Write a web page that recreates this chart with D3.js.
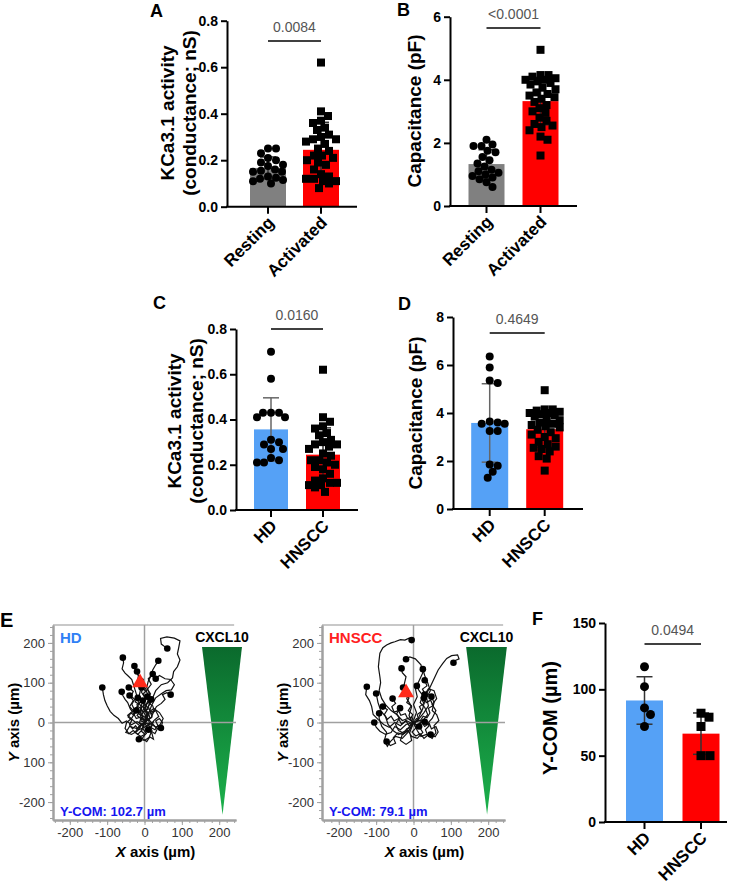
<!DOCTYPE html>
<html lang="en">
<head>
  <meta charset="UTF-8">
  <title>KCa3.1 activity and chemotaxis</title>
  <script src="https://d3js.org/d3.v7.min.js"></script>
  <style>
    body { margin: 0; background: #fff; }
    svg text { font-family: "Liberation Sans", Arial, sans-serif; }
  </style>
</head>
<body>
  <svg id="fig" width="740" height="895"></svg>

  <script>
    // ---- values ----
    const cellGroups = ["Resting", "Activated"];
    const donorGroups = ["HD", "HNSCC"];

    const kcaResting = [0.25, 0.25, 0.23, 0.21, 0.20, 0.19, 0.18, 0.175, 0.16, 0.155, 0.15, 0.15, 0.13, 0.125, 0.12, 0.115, 0.11, 0.10];
    const kcaActivated = [0.62, 0.41, 0.39, 0.37, 0.36, 0.34, 0.33, 0.31, 0.30, 0.29, 0.29, 0.28, 0.27, 0.25, 0.24, 0.22, 0.22, 0.21, 0.20, 0.19, 0.18, 0.16, 0.14, 0.13, 0.12, 0.12, 0.11, 0.11, 0.10, 0.08];
    const capResting = [2.1, 1.95, 1.9, 1.9, 1.75, 1.7, 1.55, 1.45, 1.35, 1.25, 1.15, 1.1, 1.05, 1.0, 0.95, 0.9, 0.85, 0.75, 0.6];
    const capActivated = [4.95, 4.15, 4.15, 4.1, 4.05, 4.0, 4.0, 3.95, 3.9, 3.85, 3.75, 3.7, 3.6, 3.55, 3.5, 3.45, 3.4, 3.3, 3.2, 3.1, 3.0, 2.95, 2.8, 2.7, 2.6, 2.55, 2.5, 2.4, 2.2, 2.1, 1.6];
    const kcaHD = [0.70, 0.58, 0.43, 0.43, 0.43, 0.41, 0.41, 0.31, 0.30, 0.29, 0.27, 0.27, 0.23, 0.22, 0.21, 0.21];
    const kcaHNSCC = kcaActivated;
    const capHD = [6.35, 5.9, 5.35, 5.25, 3.65, 3.6, 3.55, 3.55, 3.25, 3.25, 1.85, 1.8, 1.55, 1.3];
    const capHNSCC = capActivated;
    const ycomHD = [117, 102, 86, 81, 72];
    const ycomHNSCC = [82, 79, 72, 50, 50];

    const kcaTicks = [0, 0.2, 0.4, 0.6, 0.8];
    const capTicksB = [0, 2, 4, 6];
    const capTicksD = [0, 2, 4, 6, 8];
    const ycomTicks = [0, 50, 100, 150];
    const pValues = ["0.0084", "<0.0001", "0.0160", "0.4649", "0.0494"];

    // chemotaxis tracks (µm), each starting near the origin; last point = end dot
    const hdTracks = [
      [[0,0],[8,15],[5,32],[14,48],[22,62],[30,80],[45,95],[62,100],[75,112],[78,128],[88,140],[95,157],[88,172],[92,190],[95,205],[80,212],[60,215],[43,211],[45,197],[55,190],[61,186]],
      [[-5,5],[-12,20],[-8,38],[-18,55],[-22,72],[-28,90],[-34,108],[-45,118],[-52,124],[-60,135],[-56,150],[-58,163]],
      [[2,-5],[-4,12],[-12,30],[-6,50],[-14,68],[-10,85],[-20,100],[-16,118],[-24,130],[-27,142]],
      [[4,2],[10,18],[2,35],[8,52],[14,70],[6,88],[10,104],[18,118],[22,132],[30,145],[37,155]],
      [[-6,-4],[-20,2],[-35,-6],[-48,4],[-60,-2],[-70,10],[-82,18],[-92,28],[-100,42],[-106,55],[-110,70],[-113,88]],
      [[0,4],[-10,14],[-22,10],[-30,24],[-38,34],[-45,50],[-52,58],[-58,68],[-61,77]],
      [[5,5],[18,12],[25,28],[32,40],[45,48],[55,58],[48,70],[60,75],[70,70]],
      [[-2,2],[6,20],[-4,40],[4,58],[-8,76],[-2,95],[-14,110],[-20,128]],
      [[0,0],[-15,-10],[-25,-25],[-10,-35],[5,-28],[-5,-15],[10,-5],[20,-20],[12,-38],[0,-45],[-15,-42]],
      [[0,0],[20,-5],[35,-15],[28,-28],[15,-20],[25,5],[38,15],[30,30],[18,22],[10,40],[20,55],[8,65]],
      [[0,0],[-20,-15],[-40,-10],[-50,-25],[-35,-30],[-20,-22],[-10,-10],[-30,5],[-45,18],[-30,30],[-15,25],[-20,45],[-5,55]],
      [[0,0],[15,10],[10,25],[25,35],[40,25],[50,10],[42,-5],[30,-12],[18,0],[5,15],[-5,30],[5,45],[15,60],[5,78],[-8,88]],
      [[3,3],[12,25],[20,45],[30,62],[45,72],[58,80],[72,82],[80,95],[70,108],[55,110],[40,118],[30,110]],
      [[0,0],[-8,-20],[-18,-30],[-30,-20],[-42,-28],[-52,-15],[-48,0],[-35,10],[-25,25],[-40,40],[-30,55],[-40,68]],
      [[0,0],[-6,-8],[-14,-2],[-10,10],[-20,18],[-12,28],[-22,36],[-15,46],[-25,52],[-18,62]],
      [[0,0],[6,-10],[14,-4],[10,8],[20,14],[16,26],[26,30],[22,42],[12,48],[18,58]],
      [[0,0],[-4,-14],[-16,-18],[-24,-8],[-32,-16],[-40,-6],[-34,6],[-44,14],[-36,24],[-28,18],[-22,30]],
      [[0,0],[8,6],[2,14],[12,22],[4,30],[-6,26],[-10,36],[0,44],[-6,54],[4,62],[-4,72],[6,80],[-2,92],[-10,104]],
      [[0,0],[-10,4],[-4,16],[-16,22],[-8,34],[-18,40],[-28,34],[-34,46],[-26,58],[-36,66],[-30,78],[-42,88]],
      [[0,0],[12,-6],[22,2],[16,-12],[28,-18],[36,-8],[30,4],[40,10],[48,0],[44,-14]],
      [[0,0],[-8,-22],[2,-30],[-6,-40],[6,-48],[14,-36],[24,-42],[20,-28],[10,-18]],
      [[0,0],[4,12],[-8,18],[-2,28],[10,34],[2,46],[14,52],[6,64],[16,72],[8,84],[18,96],[10,110],[22,122]]
    ];
    const hnsccTracks = [
      [[0,0],[-15,10],[-30,5],[-45,20],[-60,30],[-75,45],[-85,60],[-92,80],[-88,100],[-90,115],[-94,140],[-92,158],[-90,174],[-82,188],[-72,195],[-60,200],[-50,203],[-35,208],[-23,207],[-12,212],[-5,207]],
      [[5,0],[15,15],[25,35],[30,55],[35,73],[45,90],[55,110],[66,132],[78,148],[89,161],[102,168],[118,170],[122,160],[112,156],[107,150]],
      [[-2,-3],[-12,18],[-5,40],[-18,60],[-12,80],[-25,95],[-20,115],[-30,125],[-32,136]],
      [[0,5],[8,25],[0,45],[10,65],[5,85],[15,105],[25,125],[20,145],[5,160],[-10,165],[-20,159]],
      [[3,-2],[15,10],[28,25],[40,42],[35,62],[45,80],[38,100],[30,118],[25,134]],
      [[-5,-2],[-20,5],[-35,-8],[-50,0],[-65,-12],[-80,-5],[-95,8],[-108,20],[-112,40],[-118,55],[-128,70],[-125,90]],
      [[0,0],[-20,-20],[-40,-30],[-55,-20],[-68,-5],[-75,15],[-88,30],[-95,50],[-100,73]],
      [[0,0],[-15,-25],[-30,-40],[-48,-35],[-62,-48],[-70,-60],[-78,-45],[-72,-25],[-85,-10],[-92,10],[-92,23]],
      [[0,0],[-20,-5],[-35,-18],[-50,-10],[-60,-25],[-75,-30],[-90,-22],[-100,-12],[-105,0]],
      [[0,0],[12,-10],[25,5],[38,20],[30,38],[18,50],[25,68],[15,80],[9,92]],
      [[0,0],[-10,-18],[-25,-28],[-40,-20],[-48,-5],[-38,10],[-45,22],[-36,36]],
      [[0,0],[10,-20],[20,-35],[35,-30],[50,-40],[60,-25],[55,-8],[68,5],[62,20],[50,30],[55,50],[48,65]],
      [[0,0],[-10,-25],[-5,-45],[-20,-55],[-35,-45],[-30,-30],[-15,-20],[-5,-35],[10,-40],[25,-25],[15,-10]],
      [[0,0],[20,5],[35,-5],[50,10],[60,30],[50,45],[62,60],[55,80],[40,85],[30,70]],
      [[0,0],[-12,-8],[-20,4],[-32,-4],[-40,10],[-52,4],[-60,16],[-70,8],[-78,20],[-70,32],[-82,40]],
      [[0,0],[10,-8],[20,2],[30,-10],[42,-2],[48,-16],[60,-10],[66,-24],[58,-36],[46,-30]],
      [[0,0],[-6,-12],[-18,-16],[-28,-30],[-42,-26],[-54,-38],[-48,-52],[-62,-58],[-72,-48]],
      [[0,0],[8,10],[18,4],[26,16],[36,12],[44,24],[40,36],[52,42],[46,56],[34,50],[28,62]],
      [[0,0],[-4,14],[-16,10],[-22,22],[-34,18],[-40,30],[-52,26],[-58,40],[-48,48],[-56,60]],
      [[0,0],[6,-14],[-4,-24],[6,-34],[18,-28],[28,-40],[38,-32],[32,-18],[42,-8],[30,2]],
      [[0,0],[14,6],[10,20],[22,28],[16,40],[28,48],[20,62],[32,70],[24,84],[36,92],[30,106]],
      [[0,0],[-8,8],[-2,20],[-14,30],[-6,42],[-18,50],[-12,62],[-24,70],[-16,82],[-28,88]]
    ];
    const hdCOM = [-12, 100];
    const hnsccCOM = [-20, 75];
    const comLabels = ["Y-COM: 102.7 µm", "Y-COM: 79.1 µm"];
    const trackTicks = [-200, -100, 0, 100, 200];
    const trackXLabels = ["-200", "-100", "0", "100", "200"];
    const hdYLabels = ["-200", "100", "0", "100", "200"];
    const hnsccYLabels = ["-200", "-100", "0", "100", "200"];
    // CXCL10 gradient wedge corners (µm)
    const hdWedge = [[154, 190], [261, 190], [209, -232]];
    const hnsccWedge = [[141, 190], [250, 190], [197, -232]];

    const svg = d3.select("#fig");

    // gradient for the CXCL10 wedge
    const grad = svg.append("defs").append("linearGradient")
      .attr("id", "cxcl").attr("x1", 0).attr("y1", 0).attr("x2", 0).attr("y2", 1);
    grad.append("stop").attr("offset", "0%").attr("stop-color", "#0b6a2d");
    grad.append("stop").attr("offset", "100%").attr("stop-color", "#1cb24c");

    // beeswarm kept inside the bar: first free slot, else the least crowded one
    function swarm(vals, y, r, maxOff) {
      const placed = [];
      const gap = 1.9 * r;
      vals.slice().sort((a, b) => b - a).forEach(v => {
        const py = y(v);
        let best = 0, bestD = -1;
        for (let k = 0; k <= 2 * Math.floor(maxOff); k++) {
          const off = (k % 2 ? 1 : -1) * Math.ceil(k / 2);
          const dmin = placed.length ? d3.min(placed, p => Math.hypot(p.dx - off, p.py - py)) : Infinity;
          if (dmin >= gap) { best = off; break; }
          if (dmin > bestD) { bestD = dmin; best = off; }
        }
        placed.push({ py: py, dx: best });
      });
      return placed;
    }

    function drawBarPanel(p) {
      const g = svg.append("g");
      const step = p.centers[1] - p.centers[0];
      const pad = 1 - p.barWidth / step;
      const x = d3.scaleBand().domain(p.cats)
        .range([p.centers[0] - step / 2, p.centers[1] + step / 2])
        .paddingInner(pad).paddingOuter(pad / 2);
      const y = d3.scaleLinear().domain([0, p.max]).range([p.bottom, p.top]);

      p.series.forEach((vals, i) => {
        const cat = p.cats[i];
        const mean = d3.mean(vals), sd = d3.deviation(vals);
        const cx = x(cat) + x.bandwidth() / 2;
        g.append("rect")
          .attr("x", x(cat)).attr("y", y(mean))
          .attr("width", x.bandwidth()).attr("height", y(0) - y(mean))
          .attr("fill", p.colors[i]);
        // SD error bar
        const eb = g.append("g").attr("stroke", p.errColors[i]).attr("stroke-width", 1.5);
        eb.append("line").attr("x1", cx).attr("x2", cx).attr("y1", y(mean - sd)).attr("y2", y(mean + sd));
        [mean - sd, mean + sd].forEach(v => {
          eb.append("line").attr("x1", cx - 8).attr("x2", cx + 8).attr("y1", y(v)).attr("y2", y(v));
        });
        // individual cells
        swarm(vals, y, p.r, x.bandwidth() / 2 - p.r + 1).forEach(pt => {
          if (p.shapes[i] === "circle") {
            g.append("circle").attr("cx", cx + pt.dx).attr("cy", pt.py).attr("r", p.r).attr("fill", "#000");
          } else {
            g.append("rect").attr("x", cx + pt.dx - p.r).attr("y", pt.py - p.r)
              .attr("width", 2 * p.r).attr("height", 2 * p.r).attr("fill", "#000");
          }
        });
      });

      // y axis
      const yAxis = g.append("g").attr("transform", `translate(${p.axisX},0)`)
        .call(d3.axisLeft(y).tickValues(p.ticks).tickFormat(p.fmt).tickSize(6).tickSizeOuter(0));
      yAxis.select(".domain").attr("stroke-width", 2);
      yAxis.selectAll(".tick line").attr("stroke-width", 2);
      yAxis.selectAll("text").attr("font-size", 14).attr("font-weight", "bold").attr("fill", "#000");

      // x axis
      g.append("line").attr("x1", p.axisX - 1).attr("x2", p.axisEnd)
        .attr("y1", p.bottom).attr("y2", p.bottom).attr("stroke", "#000").attr("stroke-width", 2);
      const xAxis = g.append("g").attr("transform", `translate(0,${p.bottom})`)
        .call(d3.axisBottom(x).tickSize(7).tickSizeOuter(0));
      xAxis.select(".domain").remove();
      xAxis.selectAll(".tick line").attr("stroke-width", 2);
      xAxis.selectAll("text")
        .attr("x", 0).attr("y", 0).attr("dy", 0)
        .attr("text-anchor", "end")
        .attr("transform", "translate(7,17) rotate(-45)")
        .attr("font-size", 17).attr("font-weight", "bold").attr("fill", "#000");

      // significance bar
      g.append("line").attr("x1", p.centers[0]).attr("x2", p.centers[1])
        .attr("y1", p.sigY).attr("y2", p.sigY).attr("stroke", "#000").attr("stroke-width", 1.5);
      g.append("text").attr("x", (p.centers[0] + p.centers[1]) / 2).attr("y", p.sigY - 9)
        .attr("text-anchor", "middle").attr("font-size", 14).attr("fill", "#555").text(p.pValue);

      // y title
      p.title.forEach((t, i) => {
        g.append("text")
          .attr("transform", `translate(${p.titleX[i]},${p.titleY}) rotate(-90)`)
          .attr("text-anchor", "middle").attr("font-size", p.titleSize).attr("font-weight", "bold")
          .text(t);
      });

      // panel letter
      g.append("text").attr("x", p.letterX).attr("y", p.letterY)
        .attr("font-size", 18).attr("font-weight", "bold").text(p.letter);
    }

    function drawTrackPanel(p) {
      const g = svg.append("g");
      const x = d3.scaleLinear().domain([-245, 245]).range([p.left, p.left + 183]);
      const y = d3.scaleLinear().domain([-245, 245]).range([820, 625]);
      const gray = "#a0a0a0";

      // CXCL10 wedge
      g.append("path")
        .attr("d", d3.line().x(d => x(d[0])).y(d => y(d[1]))(p.wedge) + "Z")
        .attr("fill", "url(#cxcl)");

      // frame top + crosshair
      g.append("line").attr("x1", x(-245)).attr("x2", x(240)).attr("y1", y(245)).attr("y2", y(245))
        .attr("stroke", "#c8c8c8").attr("stroke-width", 2);
      g.append("line").attr("x1", x(0)).attr("x2", x(0)).attr("y1", y(245)).attr("y2", y(-245))
        .attr("stroke", gray).attr("stroke-width", 1.5);
      g.append("line").attr("x1", x(-245)).attr("x2", x(245)).attr("y1", y(0)).attr("y2", y(0))
        .attr("stroke", gray).attr("stroke-width", 1.5);

      // axes with minor ticks
      const minor = d3.range(-240, 241, 20);
      const styleAxis = sel => {
        sel.select(".domain").attr("stroke", gray).attr("stroke-width", 2);
        sel.selectAll(".tick line").attr("stroke", gray);
        sel.selectAll("text").attr("font-size", 13).attr("fill", "#333");
      };
      g.append("g").attr("transform", `translate(${x(-245)},0)`)
        .call(d3.axisLeft(y).tickValues(minor).tickFormat("").tickSize(3).tickSizeOuter(0)).call(styleAxis);
      g.append("g").attr("transform", `translate(${x(-245)},0)`)
        .call(d3.axisLeft(y).tickValues(trackTicks).tickFormat((d, i) => p.yLabels[i]).tickSize(5).tickPadding(3).tickSizeOuter(0))
        .call(styleAxis);
      g.append("g").attr("transform", `translate(0,${y(-245)})`)
        .call(d3.axisBottom(x).tickValues(minor).tickFormat("").tickSize(3).tickSizeOuter(0)).call(styleAxis);
      g.append("g").attr("transform", `translate(0,${y(-245)})`)
        .call(d3.axisBottom(x).tickValues(trackTicks).tickFormat((d, i) => trackXLabels[i]).tickSize(5).tickPadding(3).tickSizeOuter(0))
        .call(styleAxis);

      // tracks
      const line = d3.line().x(d => x(d[0])).y(d => y(d[1]));
      g.selectAll("path.track").data(p.tracks).join("path").attr("class", "track")
        .attr("d", line).attr("fill", "none").attr("stroke", "#111").attr("stroke-width", 1.2);
      g.selectAll("circle.end").data(p.tracks).join("circle").attr("class", "end")
        .attr("cx", d => x(d[d.length - 1][0])).attr("cy", d => y(d[d.length - 1][1]))
        .attr("r", 3.3).attr("fill", "#000");

      // centre of mass
      g.append("path").attr("d", d3.symbol(d3.symbolTriangle, 110)())
        .attr("transform", `translate(${x(p.com[0])},${y(p.com[1])})`).attr("fill", "#ff2a1a");

      // labels
      g.append("text").attr("x", x(-245) + 7).attr("y", 643)
        .attr("font-size", 15).attr("font-weight", "bold").attr("fill", p.nameColor).text(p.name);
      g.append("text").attr("x", x((p.wedge[0][0] + p.wedge[1][0]) / 2)).attr("y", 642)
        .attr("text-anchor", "middle").attr("font-size", 14).attr("font-weight", "bold").text("CXCL10");
      g.append("text").attr("x", x(-245) + 7).attr("y", 816)
        .attr("font-size", 13).attr("font-weight", "bold").attr("fill", "#1515f0").text(p.comLabel);

      const xt = g.append("text").attr("x", x(0) + 11).attr("y", 857)
        .attr("text-anchor", "middle").attr("font-size", 15).attr("font-weight", "bold");
      xt.append("tspan").attr("font-style", "italic").text("X");
      xt.append("tspan").text(" axis (µm)");
      const yt = g.append("text").attr("transform", `translate(${x(-245) - 34},${y(0)}) rotate(-90)`)
        .attr("text-anchor", "middle").attr("font-size", 15).attr("font-weight", "bold");
      yt.append("tspan").attr("font-style", "italic").text("Y");
      yt.append("tspan").text(" axis (µm)");
    }

    const blue = "#55a1f6", red = "#ff0000", grey = "#808080";

    drawBarPanel({
      cats: cellGroups, series: [kcaResting, kcaActivated], colors: [grey, red], errColors: ["#333", "#333"],
      shapes: ["circle", "square"], r: 4, axisX: 227, axisEnd: 357, top: 20.7, bottom: 206.7,
      max: 0.8, ticks: kcaTicks, fmt: d3.format(".1f"), centers: [268, 321], barWidth: 36,
      sigY: 41, pValue: pValues[0], title: ["KCa3.1 activity", "(conductance; nS)"], titleX: [174, 196],
      titleY: 113, titleSize: 19, letter: "A", letterX: 150, letterY: 17
    });
    drawBarPanel({
      cats: cellGroups, series: [capResting, capActivated], colors: [grey, red], errColors: ["#333", "#333"],
      shapes: ["circle", "square"], r: 4, axisX: 450, axisEnd: 577, top: 16.7, bottom: 206,
      max: 6, ticks: capTicksB, fmt: d3.format("d"), centers: [486.5, 540.5], barWidth: 36,
      sigY: 28, pValue: pValues[1], title: ["Capacitance (pF)"], titleX: [421],
      titleY: 111, titleSize: 19, letter: "B", letterX: 397, letterY: 16
    });
    drawBarPanel({
      cats: donorGroups, series: [kcaHD, kcaHNSCC], colors: [blue, red], errColors: ["#666", "#333"],
      shapes: ["circle", "square"], r: 4, axisX: 236, axisEnd: 358, top: 329, bottom: 510,
      max: 0.8, ticks: kcaTicks, fmt: d3.format(".1f"), centers: [271, 323], barWidth: 34,
      sigY: 329, pValue: pValues[2], title: ["KCa3.1 activity", "(conductance; nS)"], titleX: [181, 203],
      titleY: 421, titleSize: 19, letter: "C", letterX: 153, letterY: 309
    });
    drawBarPanel({
      cats: donorGroups, series: [capHD, capHNSCC], colors: [blue, red], errColors: ["#666", "#333"],
      shapes: ["circle", "square"], r: 4, axisX: 453, axisEnd: 583, top: 317, bottom: 509,
      max: 8, ticks: capTicksD, fmt: d3.format("d"), centers: [489.7, 544.7], barWidth: 37,
      sigY: 333, pValue: pValues[3], title: ["Capacitance (pF)"], titleX: [422],
      titleY: 413, titleSize: 19, letter: "D", letterX: 398, letterY: 310
    });
    drawBarPanel({
      cats: donorGroups, series: [ycomHD, ycomHNSCC], colors: [blue, red], errColors: ["#333", "#333"],
      shapes: ["circle", "square"], r: 4.5, axisX: 605, axisEnd: 727, top: 623, bottom: 822,
      max: 150, ticks: ycomTicks, fmt: d3.format("d"), centers: [644.5, 701], barWidth: 37,
      sigY: 644, pValue: pValues[4], title: ["Y-COM (µm)"], titleX: [557],
      titleY: 718, titleSize: 20, letter: "F", letterX: 532, letterY: 625
    });

    drawTrackPanel({
      left: 53, tracks: hdTracks, com: hdCOM, wedge: hdWedge, yLabels: hdYLabels,
      name: "HD", nameColor: "#2f7ff5", comLabel: comLabels[0]
    });
    drawTrackPanel({
      left: 322, tracks: hnsccTracks, com: hnsccCOM, wedge: hnsccWedge, yLabels: hnsccYLabels,
      name: "HNSCC", nameColor: "#ff2020", comLabel: comLabels[1]
    });

    svg.append("text").attr("x", 0).attr("y", 627)
      .attr("font-size", 20).attr("font-weight", "bold").text("E");
  </script>
</body>
</html>
